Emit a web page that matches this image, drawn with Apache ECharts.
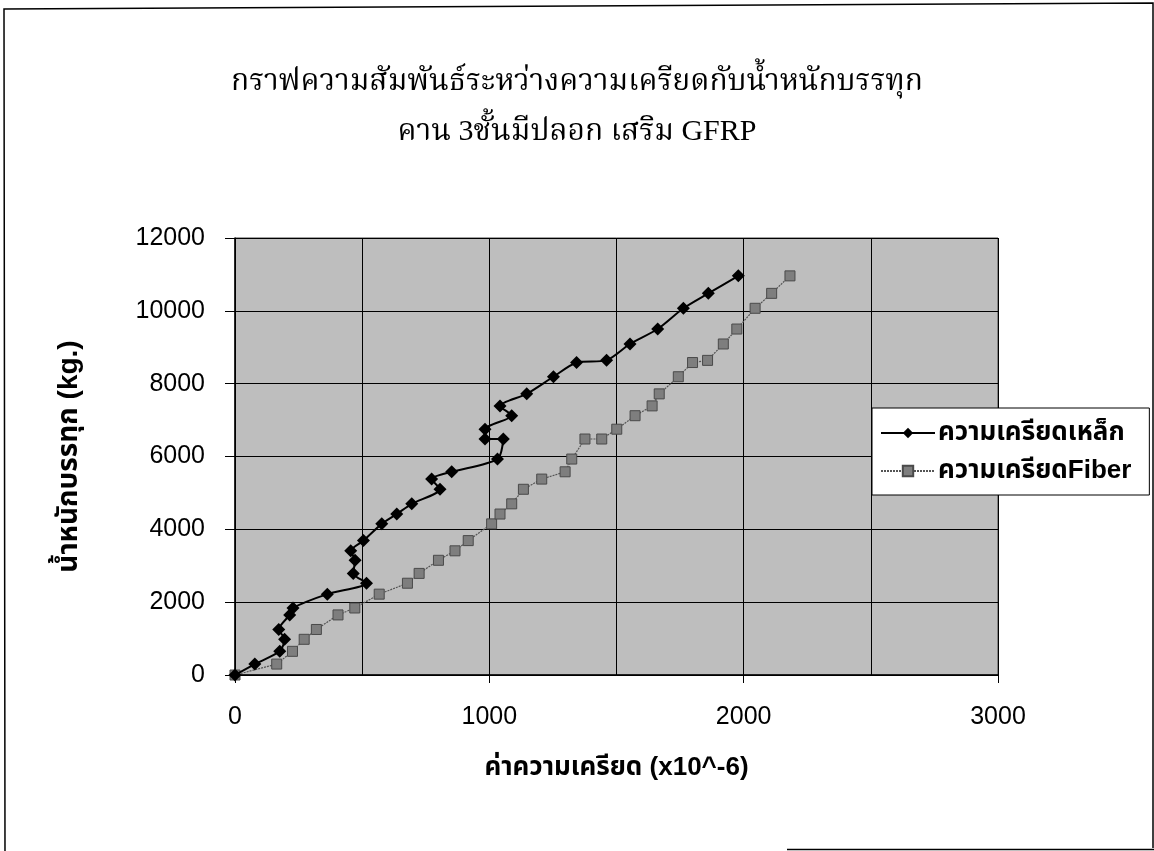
<!DOCTYPE html>
<html>
<head>
<meta charset="utf-8">
<script src="https://cdn.jsdelivr.net/npm/echarts@6/dist/echarts.min.js"></script>
<style>
  html, body { margin: 0; padding: 0; background: #fff; }
  #chart { width: 1154px; height: 851px; }
</style>
</head>
<body>
<div id="chart"></div>
<script>
// Applied load (kg.) at each reading, shared by both strain gauges
const loads = [0, 300, 650, 980, 1250, 1650, 1840, 2220, 2520, 2790, 3150, 3410, 3690,
  4150, 4420, 4700, 5100, 5380, 5580, 5930, 6480, 6480, 6750, 7120, 7390, 7720,
  8190, 8580, 8640, 9090, 9500, 10070, 10480, 10960];

// Strain readings (x10^-6)
const steelStrain = [0, 78, 176, 195, 172, 215, 228, 363, 517, 465, 472, 455, 505,
  577, 636, 695, 806, 773, 852, 1032, 1055, 983, 983, 1088, 1042, 1147,
  1252, 1343, 1461, 1553, 1662, 1763, 1861, 1979];
const fiberStrain = [0, 164, 226, 272, 320, 405, 471, 567, 678, 724, 800, 865, 917,
  1009, 1042, 1088, 1134, 1206, 1298, 1324, 1376, 1442, 1501, 1573, 1640, 1668,
  1743, 1799, 1858, 1920, 1973, 2045, 2110, 2182];

const seriesNames = ['ความเครียดเหล็ก', 'ความเครียดFiber'];
const titleLines = ['กราฟความสัมพันธ์ระหว่างความเครียดกับน้ำหนักบรรทุก', 'คาน 3ชั้นมีปลอก เสริม GFRP'];
const xAxisTitle = 'ค่าความเครียด (x10^-6)';
const yAxisTitle = 'น้ำหนักบรรทุก (kg.)';

const sansFont = '"Liberation Sans", Arial, "Noto Sans Thai", "Noto Sans", sans-serif';
const serifFont = '"Liberation Serif", "Noto Serif Thai", "Noto Sans Thai", serif';

const pairs = (xs) => xs.map((x, i) => [x, loads[i]]);
const plainNumber = (v) => String(v);

const chart = echarts.init(document.getElementById('chart'), null, { renderer: 'canvas' });

chart.setOption({
  backgroundColor: '#ffffff',
  animation: false,
  title: {
    text: titleLines.join('\n'),
    left: 'center',
    top: 52,
    textStyle: {
      fontFamily: serifFont,
      fontSize: 30,
      fontWeight: 'normal',
      color: '#000',
      lineHeight: 50
    }
  },
  grid: {
    left: 235,
    top: 238,
    width: 763,
    height: 437,
    show: true,
    backgroundColor: '#bebebe',
    borderColor: '#444',
    borderWidth: 1
  },
  legend: {
    orient: 'vertical',
    left: 872,
    top: 408,
    padding: [12, 18, 11, 8],
    itemGap: 12,
    itemWidth: 54,
    itemHeight: 13,
    backgroundColor: '#fff',
    borderColor: '#000',
    borderWidth: 1,
    borderRadius: 0,
    textStyle: {
      fontFamily: sansFont,
      fontSize: 26,
      fontWeight: 'bold',
      color: '#000',
      padding: [0, 0, 0, -2]
    },
    data: seriesNames
  },
  xAxis: {
    type: 'value',
    min: 0,
    max: 3000,
    interval: 1000,
    name: xAxisTitle,
    nameLocation: 'middle',
    nameGap: 80,
    nameTextStyle: {
      fontFamily: sansFont,
      fontSize: 26,
      fontWeight: 'bold',
      color: '#000'
    },
    axisLine: { show: true, lineStyle: { color: '#000', width: 1.5 } },
    axisTick: { show: true, inside: false, length: 8, lineStyle: { color: '#000' } },
    axisLabel: {
      margin: 30,
      fontFamily: sansFont,
      fontSize: 25,
      color: '#000',
      formatter: plainNumber
    },
    splitLine: { show: true, lineStyle: { color: '#000', width: 1 } },
    minorTick: { show: false, splitNumber: 2 },
    minorSplitLine: { show: true, lineStyle: { color: '#000', width: 1 } }
  },
  yAxis: {
    type: 'value',
    min: 0,
    max: 12000,
    interval: 2000,
    name: yAxisTitle,
    nameLocation: 'middle',
    nameGap: 152,
    nameRotate: 90,
    nameTextStyle: {
      fontFamily: sansFont,
      fontSize: 28,
      fontWeight: 'bold',
      color: '#000'
    },
    axisLine: { show: true, lineStyle: { color: '#000', width: 1.5 } },
    axisTick: { show: true, inside: false, length: 10, lineStyle: { color: '#000' } },
    axisLabel: {
      margin: 30,
      fontFamily: sansFont,
      fontSize: 25,
      color: '#000',
      formatter: plainNumber
    },
    splitLine: { show: true, lineStyle: { color: '#000', width: 1 } }
  },
  series: [
    {
      name: seriesNames[0],
      type: 'line',
      data: pairs(steelStrain),
      smooth: 0.25,
      symbol: 'diamond',
      symbolSize: 13,
      showAllSymbol: true,
      itemStyle: { color: '#000' },
      lineStyle: { color: '#000', width: 2 },
      z: 3
    },
    {
      name: seriesNames[1],
      type: 'line',
      data: pairs(fiberStrain),
      symbol: 'rect',
      symbolSize: 10,
      showAllSymbol: true,
      itemStyle: { color: '#7e7e7e', borderColor: '#4a4a4a', borderWidth: 1 },
      lineStyle: { color: '#555', width: 1.2, type: [2, 1] },
      z: 2
    }
  ],
  graphic: [
    // page frame around the chart
    { type: 'polyline', shape: { points: [[5, 851], [4, 9], [1153, 3], [1153, 848]] },
      style: { stroke: '#000', lineWidth: 1.5, fill: null }, silent: true },
    { type: 'line', shape: { x1: 787, y1: 849.5, x2: 1154, y2: 849.5 },
      style: { stroke: '#000', lineWidth: 1.5 }, silent: true }
  ]
});
</script>
</body>
</html>
